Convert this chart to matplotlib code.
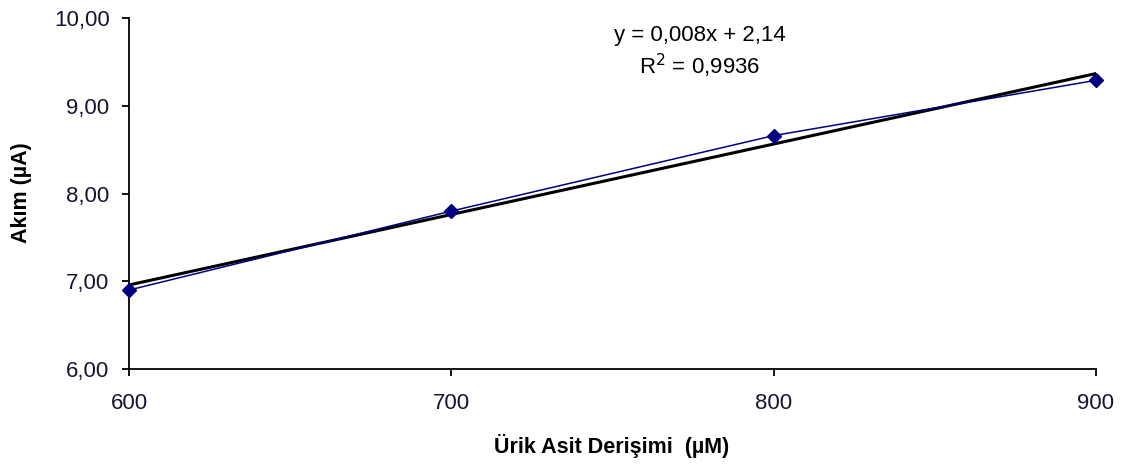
import matplotlib.pyplot as plt
import numpy as np
from matplotlib.ticker import FuncFormatter

plt.rcParams['font.family'] = ['Liberation Sans', 'DejaVu Sans']

# veriler
derisim = [600, 700, 800, 900]
akim = [6.90, 7.80, 8.66, 9.29]
x_ticks = [600, 700, 800, 900]
y_ticks = [6, 7, 8, 9, 10]

fig = plt.figure(figsize=(11.28, 4.68), dpi=100)
ax = fig.add_axes([0.1144, 0.2115, 0.8572, 0.75])

ax.plot(derisim, akim, color='#000080', lw=1.1, marker='D', ms=7,
        mfc='#000080', mec='#000080', zorder=3, clip_on=False)

# doğrusal eğilim çizgisi
egim, kesim = np.polyfit(derisim, akim, 1)
xs = np.array([derisim[0], derisim[-1]])
ax.plot(xs, egim * xs + kesim, color='black', lw=2.2, zorder=2)

ax.set_xlim(600, 900)
ax.set_ylim(6, 10)
ax.set_xticks(x_ticks)
ax.set_yticks(y_ticks)
ax.yaxis.set_major_formatter(FuncFormatter(lambda v, p: f"{v:.2f}".replace('.', ',')))

ax.spines['top'].set_visible(False)
ax.spines['right'].set_visible(False)
for s in ('left', 'bottom'):
    ax.spines[s].set_color('black')
    ax.spines[s].set_linewidth(1.3)
ax.tick_params(direction='out', length=5, width=1.3, labelsize=16,
               labelcolor='#151530')
ax.tick_params(axis='y', pad=9)
ax.tick_params(axis='x', pad=12)

fig.text(0.5426, 0.048, "Ürik Asit Derişimi  (µM)", fontsize=15.5,
         fontweight='bold', ha='center', va='center')
fig.text(0.0195, 0.588, "Akım (µA)", fontsize=15.5, fontweight='bold',
         rotation=90, ha='center', va='center')

ax.text(0.59, 0.951, "y = 0,008x + 2,14", transform=ax.transAxes,
        ha='center', va='center', fontsize=16)
ax.text(0.59, 0.863, "R$^2$ = 0,9936", transform=ax.transAxes,
        ha='center', va='center', fontsize=16)

fig.savefig('out.png', dpi=100)
